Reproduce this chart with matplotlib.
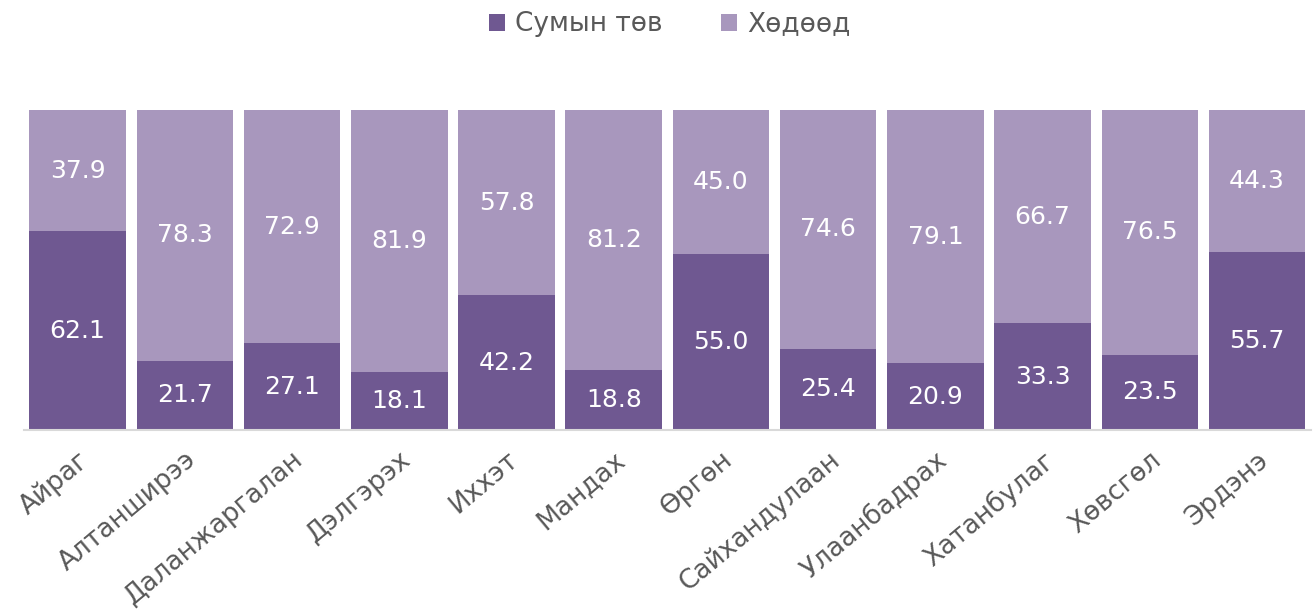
import matplotlib.pyplot as plt
import numpy as np

# data
categories = ["Айраг", "Алтанширээ", "Даланжаргалан", "Дэлгэрэх", "Иххэт", "Мандах",
              "Өргөн", "Сайхандулаан", "Улаанбадрах", "Хатанбулаг", "Хөвсгөл", "Эрдэнэ"]
sum_center = [62.1, 21.7, 27.1, 18.1, 42.2, 18.8, 55.0, 25.4, 20.9, 33.3, 23.5, 55.7]
rural = [37.9, 78.3, 72.9, 81.9, 57.8, 81.2, 45.0, 74.6, 79.1, 66.7, 76.5, 44.3]
series_names = ["Сумын төв", "Хөдөөд"]

DARK = "#6f5891"
LIGHT = "#a897bd"
GRAY = "#595959"

plt.rcParams['font.family'] = ['DejaVu Sans']

fig = plt.figure(figsize=(13.16, 6.15), dpi=100)
ax = fig.add_axes([0.0182, 0.3008, 0.9778, 0.5202])

x = np.arange(len(categories))
b1 = ax.bar(x, sum_center, width=0.9, color=DARK, label=series_names[0])
b2 = ax.bar(x, rural, width=0.9, bottom=sum_center, color=LIGHT, label=series_names[1])

for i in range(len(categories)):
    ax.text(x[i], sum_center[i] / 2, f"{sum_center[i]:.1f}", ha='center', va='center',
            color='white', fontsize=18)
    ax.text(x[i], sum_center[i] + rural[i] / 2, f"{rural[i]:.1f}", ha='center', va='center',
            color='white', fontsize=18)

ax.set_xlim(-0.5, len(categories) - 0.5)
ax.set_ylim(0, 100)
ax.set_xticks(x)
ax.set_xticklabels(categories, rotation=40, ha='right', rotation_mode='anchor',
                   fontsize=19, color=GRAY)
ax.tick_params(axis='x', length=0, pad=12)
ax.set_yticks([])
for s in ['top', 'right', 'left']:
    ax.spines[s].set_visible(False)
ax.spines['bottom'].set_color('#d9d9d9')
ax.spines['bottom'].set_linewidth(1.5)

fig.legend(handles=[b1, b2], labels=series_names, loc='upper center',
           bbox_to_anchor=(0.509, 1.02), ncol=2, frameon=False, fontsize=19,
           handlelength=0.6, handleheight=0.6, handletextpad=0.4, columnspacing=2.2,
           labelcolor=GRAY)

fig.savefig("out.png", dpi=100)
